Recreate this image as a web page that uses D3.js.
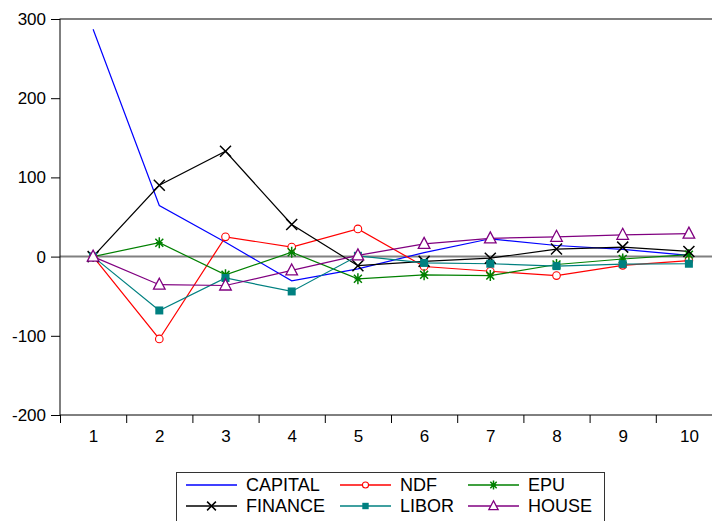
<!DOCTYPE html>
<html>
<head>
<meta charset="utf-8">
<script src="https://cdn.jsdelivr.net/npm/d3@7"></script>
<style>
  body { margin: 0; background: #fff; }
  svg { display: block; font-family: "Liberation Sans", Arial, sans-serif; }
</style>
</head>
<body>
<div id="chart"></div>
<script>
// periods 1..10
const periods = [1, 2, 3, 4, 5, 6, 7, 8, 9, 10];
const yTicks = [-200, -100, 0, 100, 200, 300];

const capital = [287, 64.5, 18, -30.5, -15.5, 5, 22.5, 14, 9, 1.5];
const ndf     = [0, -104, 25, 12, 35, -12.5, -18.5, -24, -11, -5];
const epu     = [0, 17.5, -23, 5.5, -28, -23, -24, -10, -3, 2.5];
const finance = [0, 90, 133, 40.5, -11.5, -6, -2, 9.5, 12, 6.5];
const libor   = [0, -68, -27, -44, 1, -8, -9, -12, -9.5, -9];
const house   = [0, -35.5, -36.5, -17.5, 1.5, 16, 23, 25, 27.5, 29];

const series = [
  { name: "CAPITAL", values: capital, color: "#0000ff", marker: "none" },
  { name: "NDF", values: ndf, color: "#ff0000", marker: "circle" },
  { name: "EPU", values: epu, color: "#008000", marker: "asterisk" },
  { name: "FINANCE", values: finance, color: "#000000", marker: "x" },
  { name: "LIBOR", values: libor, color: "#008080", marker: "square" },
  { name: "HOUSE", values: house, color: "#800080", marker: "triangle" }
];

const W = 712, H = 521;
const plot = { left: 60, right: 722, top: 19, bottom: 415 };

const svg = d3.select("#chart")
  .append("svg")
  .attr("width", W)
  .attr("height", H);

svg.append("rect").attr("width", W).attr("height", H).attr("fill", "#fff");

const x = d3.scaleLinear().domain([0.5, 10.5]).range([plot.left, plot.right]);
const y = d3.scaleLinear().domain([-200, 300]).range([plot.bottom, plot.top]);

// zero line
svg.append("line")
  .attr("x1", plot.left).attr("x2", plot.right)
  .attr("y1", y(0)).attr("y2", y(0))
  .attr("stroke", "#808080")
  .attr("stroke-width", 2);

// frame
svg.append("rect")
  .attr("x", plot.left).attr("y", plot.top)
  .attr("width", plot.right - plot.left)
  .attr("height", plot.bottom - plot.top)
  .attr("fill", "none")
  .attr("stroke", "#000")
  .attr("stroke-width", 1);

// y axis
const yAxis = svg.append("g")
  .attr("transform", `translate(${plot.left},0)`)
  .call(d3.axisLeft(y).tickValues(yTicks).tickSize(9).tickPadding(5).tickFormat(d => String(d)));
yAxis.select(".domain").remove();
yAxis.selectAll("text").style("font-size", "17px").attr("fill", "#000");

// x axis tick marks between periods
const xTickAxis = svg.append("g")
  .attr("transform", `translate(0,${plot.bottom})`)
  .call(d3.axisBottom(x).tickValues(d3.range(0.5, 11, 1)).tickSize(8).tickFormat(""));
xTickAxis.select(".domain").remove();

// x labels
const xLabAxis = svg.append("g")
  .attr("transform", `translate(0,${plot.bottom})`)
  .call(d3.axisBottom(x).tickValues(periods).tickSize(0).tickPadding(15).tickFormat(d => String(d)));
xLabAxis.select(".domain").remove();
xLabAxis.selectAll("text").style("font-size", "17px").attr("fill", "#000");

const line = d3.line()
  .x((d, i) => x(periods[i]))
  .y(d => y(d));

function drawMarker(g, type, color, cx, cy, k = 1) {
  if (type === "circle") {
    g.append("circle").attr("cx", cx).attr("cy", cy).attr("r", 3.8 * k)
      .attr("fill", "#fff").attr("stroke", color).attr("stroke-width", 1.1);
  } else if (type === "square") {
    g.append("rect").attr("x", cx - 4 * k).attr("y", cy - 4 * k).attr("width", 8 * k).attr("height", 8 * k)
      .attr("fill", color);
  } else if (type === "triangle") {
    g.append("path")
      .attr("d", `M${cx},${cy - 6.5 * k}L${cx + 5.8 * k},${cy + 4.5 * k}L${cx - 5.8 * k},${cy + 4.5 * k}Z`)
      .attr("fill", "#fff").attr("stroke", color).attr("stroke-width", 1.3);
  } else if (type === "x") {
    const s = 5.5 * k;
    g.append("path")
      .attr("d", `M${cx - s},${cy - s}L${cx + s},${cy + s}M${cx - s},${cy + s}L${cx + s},${cy - s}`)
      .attr("stroke", color).attr("stroke-width", 1.5).attr("fill", "none");
  } else if (type === "asterisk") {
    const s = 5.5 * k, d = s * 0.72;
    g.append("path")
      .attr("d", `M${cx},${cy - s}L${cx},${cy + s}M${cx - d},${cy - d}L${cx + d},${cy + d}M${cx - d},${cy + d}L${cx + d},${cy - d}M${cx - s * 0.6},${cy}L${cx + s * 0.6},${cy}`)
      .attr("stroke", color).attr("stroke-width", 1.5).attr("fill", "none");
  }
}

const lines = svg.append("g");
series.forEach(s => {
  lines.append("path")
    .datum(s.values)
    .attr("d", line)
    .attr("fill", "none")
    .attr("stroke", s.color)
    .attr("stroke-width", 1.2);
});
series.forEach(s => {
  if (s.marker === "none") return;
  const mg = svg.append("g");
  s.values.forEach((v, i) => drawMarker(mg, s.marker, s.color, x(periods[i]), y(v)));
});

// legend
const legend = svg.append("g");
legend.append("rect")
  .attr("x", 176.5).attr("y", 472.5)
  .attr("width", 428).attr("height", 60)
  .attr("fill", "#fff")
  .attr("stroke", "#333")
  .attr("stroke-width", 1);

const colX = [186, 340, 468];
const rowY = [485, 506];
series.forEach((s, i) => {
  const cx = colX[i % 3], cy = rowY[Math.floor(i / 3)];
  legend.append("line")
    .attr("x1", cx).attr("x2", cx + 51)
    .attr("y1", cy).attr("y2", cy)
    .attr("stroke", s.color).attr("stroke-width", 1.5);
  if (s.marker !== "none") drawMarker(legend, s.marker, s.color, cx + 25.5, cy, 0.8);
  legend.append("text")
    .attr("x", cx + 60).attr("y", cy)
    .attr("dy", "0.36em")
    .style("font-size", "18px")
    .attr("fill", "#000")
    .text(s.name);
});
</script>
</body>
</html>
